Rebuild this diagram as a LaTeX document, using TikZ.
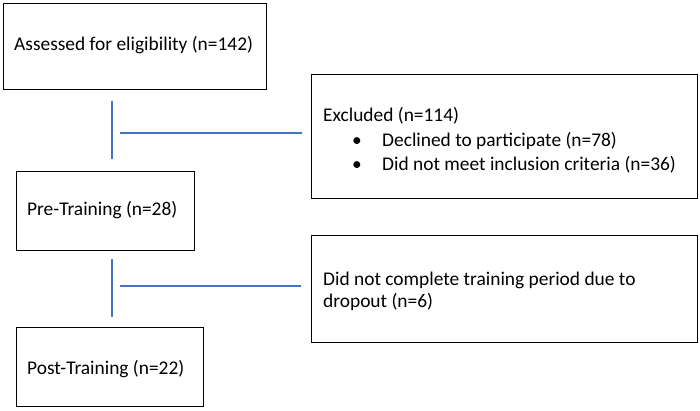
\documentclass[tikz,border=0pt]{standalone}
\usepackage{fontspec}
\setmainfont{Carlito}
\definecolor{linkblue}{HTML}{4472C4}
\begin{document}
\begin{tikzpicture}[x=1pt, y=-1pt,
  box/.style={draw, line width=1.3pt, inner sep=0pt, anchor=north west},
  txt/.style={anchor=base west, inner sep=0pt, font=\fontsize{19.4}{23}\selectfont},
  link/.style={draw=linkblue, line width=1.2pt}]
\useasboundingbox (0,0) rectangle (700,410);

% boxes
\node[box, minimum width=263pt, minimum height=86pt] (elig) at (3,3) {};
\node[box, minimum width=386pt, minimum height=124pt] (excl) at (311,74) {};
\node[box, minimum width=178pt, minimum height=79pt] (pre) at (16,171) {};
\node[box, minimum width=386pt, minimum height=107pt] (drop) at (311,235) {};
\node[box, minimum width=187pt, minimum height=79pt] (post) at (16,327) {};

% texts
\node[txt] (eligtext) at (14,50) {Assessed for eligibility (n=142)};
\node[txt] (excltext) at (323,121) {Excluded (n=114)};
\node[txt, anchor=base] (dot1) at (357,146) {\textbullet};
\node[txt] (declined) at (382,146) {Declined to participate (n=78)};
\node[txt, anchor=base] (dot2) at (357,170) {\textbullet};
\node[txt] (notmet) at (382,170) {Did not meet inclusion criteria (n=36)};
\node[txt] (pretext) at (27,215) {Pre-Training (n=28)};
\node[txt] (droptext) at (323,285) {Did not complete training period due to};
\node[txt] (droptext2) at (323,307) {dropout (n=6)};
\node[txt] (posttext) at (27,374) {Post-Training (n=22)};

% connectors
\coordinate (v1top) at (112,101);
\coordinate (v1bot) at (112,159);
\coordinate (h1left) at (120,133);
\coordinate (h1right) at (302,133);
\coordinate (v2top) at (112,259);
\coordinate (v2bot) at (112,317);
\coordinate (h2left) at (120,286);
\coordinate (h2right) at (301,286);
\draw[link] (v1top) -- (v1bot);
\draw[link] (h1left) -- (h1right);
\draw[link] (v2top) -- (v2bot);
\draw[link] (h2left) -- (h2right);
\end{tikzpicture}
\end{document}
